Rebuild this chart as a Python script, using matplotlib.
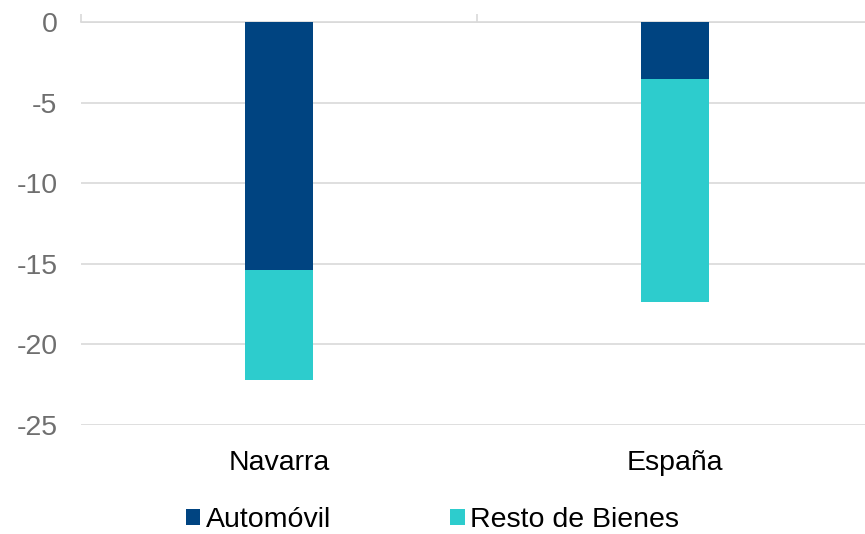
import matplotlib.pyplot as plt
import numpy as np

plt.rcParams['font.family'] = ['Liberation Sans', 'DejaVu Sans']

# Data
categories = ['Navarra', 'España']
automovil = [-15.4, -3.55]
resto = [-6.8, -13.85]
yticks = [0, -5, -10, -15, -20, -25]

C_AUTO = '#004481'
C_RESTO = '#2DCCCD'
GRID = '#D9D9D9'
FS = 20.5

fig = plt.figure(figsize=(8.65, 5.34), dpi=100)
ax = fig.add_axes([81 / 865, 1 - 425 / 534, 792 / 865, 403 / 534])

x = np.arange(len(categories))
ax.bar(x, automovil, width=0.17, color=C_AUTO, label='Automóvil', zorder=3)
ax.bar(x, resto, width=0.17, bottom=automovil, color=C_RESTO,
       label='Resto de Bienes', zorder=3)

ax.set_xlim(-0.5, 1.5)
ax.set_ylim(-25, 0)
ax.set_yticks(yticks)
ax.set_yticklabels([str(v) for v in yticks])
ax.yaxis.grid(True, color=GRID, linewidth=1.2, zorder=0)

for s in ['left', 'right', 'bottom']:
    ax.spines[s].set_visible(False)
ax.spines['top'].set_color(GRID)
ax.spines['top'].set_linewidth(1.2)

# category labels below the plot, tick marks at boundaries on the top axis
ax.set_xticks(x)
ax.set_xticklabels(categories)
ax.tick_params(axis='x', which='major', length=0, labelsize=FS,
               labelcolor='#000000', pad=18)
ax.set_xticks([-0.5, 0.5, 1.5], minor=True)
ax.tick_params(axis='x', which='minor', top=True, bottom=False,
               direction='out', length=6, color=GRID, width=1.2)
ax.tick_params(axis='y', length=0, labelsize=FS, labelcolor='#6F6F6F',
               pad=17)

handles, labels = ax.get_legend_handles_labels()
fig.legend(handles, labels, loc='center', bbox_to_anchor=(0.5, 1 - 520 / 534),
           ncol=2, frameon=False, fontsize=FS, handlelength=0.5,
           handleheight=0.5, handletextpad=0.2, columnspacing=4.2)

fig.savefig('out.png', dpi=100)
